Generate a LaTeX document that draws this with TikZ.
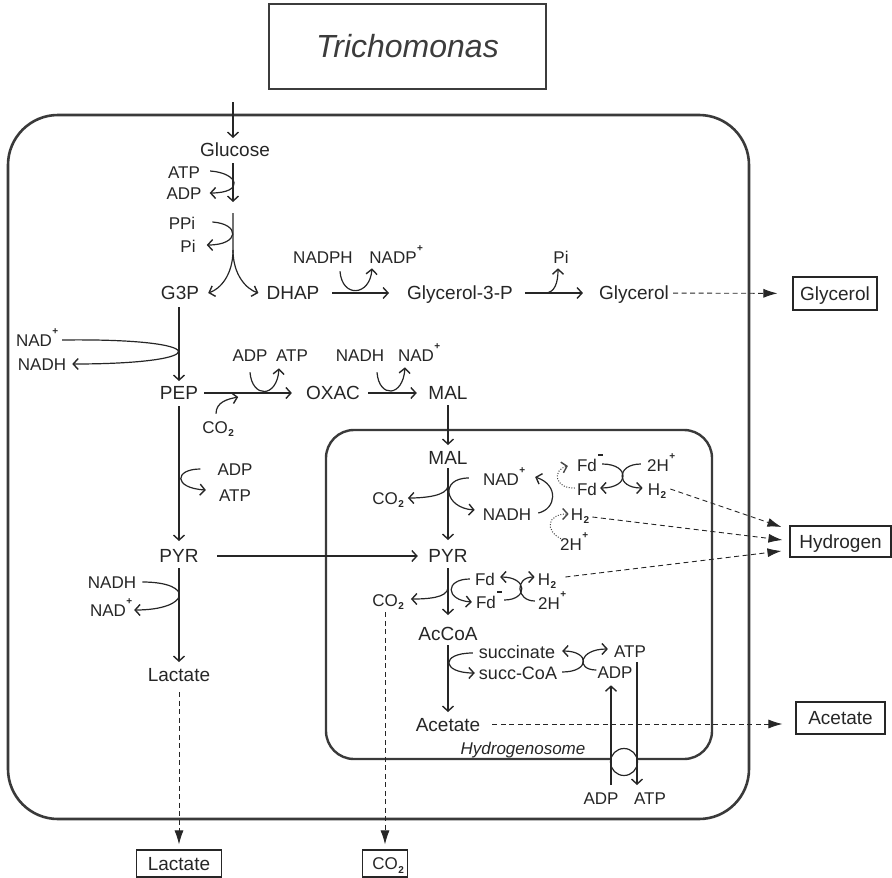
\documentclass[tikz,border=0pt]{standalone}
\usepackage{fontspec}
\setmainfont{Liberation Sans}
\usetikzlibrary{arrows.meta,calc}
\definecolor{ink}{HTML}{262626}
\definecolor{wall}{HTML}{3A3A3A}
% charge and subscript marks that do not widen the label
\newcommand\ionp{\rlap{\kern0.5pt\raisebox{11.5pt}{\fontsize{10}{10}\selectfont\bfseries +}}}
\newcommand\ionm{\rlap{\kern1.2pt\rule[15pt]{5pt}{2.2pt}}}
\newcommand\subtwo{\rlap{\kern0.6pt\raisebox{-3.5pt}{\fontsize{10}{10}\selectfont\bfseries 2}}}
\begin{document}
\begin{tikzpicture}[x=1pt,y=-1pt,
  every node/.style={text=ink},
  mlab/.style={inner sep=0pt,text height=13.6pt,text depth=0pt,font=\fontsize{19}{19}\selectfont},
  slab/.style={inner sep=0pt,text height=12.9pt,text depth=0pt,font=\fontsize{18}{18}\selectfont},
  clab/.style={inner sep=0pt,text height=12.2pt,text depth=0pt,font=\fontsize{17}{17}\selectfont},
  rxn/.style={draw=ink,line width=1.2pt,-{Straight Barb[length=5pt,width=11pt,line width=1.4pt]}},
  dotl/.style={draw=ink!85,line width=1pt,dash pattern=on 1pt off 1.6pt,-{Straight Barb[length=5pt,width=11pt,line width=1.4pt]}},
  dsh/.style={draw=ink,line width=0.9pt,dash pattern=on 5pt off 3.5pt,-{Latex[length=14pt,width=9pt]}},
  extbox/.style={draw=ink,line width=1.1pt,inner sep=0pt,text height=13.6pt,text depth=0pt,font=\fontsize{19}{19}\selectfont},
  wallline/.style={draw=wall,line width=2.6pt},
]
\useasboundingbox (0,0) rectangle (892,878);

% title
\node[draw=ink!90,line width=1.5pt,minimum width=277pt,minimum height=85pt,inner sep=0pt,
      text=ink!90,font=\fontsize{32}{32}\selectfont\itshape] (title) at (407.5,46.5) {Trichomonas};

% cell and hydrogenosome membranes
\draw[wallline,rounded corners=50pt] (8,115) rectangle (749,819);
\draw[wallline,line width=2.4pt,rounded corners=28pt] (326,430) rectangle (712,759);
\node[draw=ink,line width=1.2pt,fill=white,circle,minimum size=27pt,inner sep=0pt] (porter) at (624,762) {};
\node[clab,font=\fontsize{17}{17}\selectfont\itshape] (hydrolab) at (523,748) {Hydrogenosome};

% ---------- glycolysis ----------
\coordinate (in) at (233,102);
\node[mlab] (glc) at (235,150) {Glucose};
\draw[rxn] (in) -- ($(in |- glc.north)+(0,-5)$);

\node[clab] (atp1) at (184,172) {ATP};
\node[clab] (adp1) at (184,193) {ADP};
\coordinate (hexp) at (233,202);
\draw[rxn] ($(glc.south -| hexp)+(0,6)$) -- (hexp);
\draw[rxn] ($(atp1.east)+(10,-1)$) .. controls +(29,2) and +(35,0) .. ($(adp1.east)+(8,0)$);

\node[clab] (ppi) at (182,223) {PPi};
\node[clab] (pi1) at (188,246) {Pi};
\coordinate (fbp) at (233,213);
\coordinate (split) at (233,250);
\node[mlab] (g3p) at (180,293) {G3P};
\node[mlab] (dhap) at (293,293) {DHAP};
\draw[rxn] ($(ppi.east)+(17,-1)$) .. controls +(28,2) and +(33,0) .. ($(pi1.east)+(11,-1)$);
\draw[rxn] (fbp) -- (split) .. controls +(0,25) and +(12,-4) .. ($(g3p.east)+(9,0)$);
\draw[rxn] (split) .. controls +(0,25) and +(-12,-4) .. ($(dhap.west)+(-8,0)$);

% glycerol branch
\node[clab] (nadph) at (323,257) {NADPH};
\node[clab] (nadp) at (393,257) {NADP\ionp};
\node[mlab] (g3pl) at (460,293) {Glycerol-3-P};
\draw[rxn,shorten <=12.5pt,shorten >=18pt] (dhap) -- (g3pl);
\draw[rxn] ($(nadph.south)+(17,8)$) .. controls +(2,27) and +(-2,28) .. ($(nadp.south)+(-21,5)$);

\node[clab] (pi2) at (561,257) {Pi};
\node[mlab] (glyc) at (634,293) {Glycerol};
\draw[rxn,shorten <=12pt,shorten >=16pt] (g3pl) -- (glyc);
\draw[rxn] ($(g3pl.east)+(32,0)$) .. controls +(10,0) and +(0,14) .. ($(pi2.south)+(-3,5)$);
\node[extbox,minimum width=84pt,minimum height=33pt] (glycx) at (835,293.5) {Glycerol};
\draw[dsh,shorten <=4pt,shorten >=15pt] (glyc) -- (glycx);

% G3P to PEP
\node[clab] (nad0) at (34,340) {NAD\ionp};
\node[clab] (nadh0) at (42,364) {NADH};
\node[mlab] (pep) at (179,393) {PEP};
\draw[rxn,shorten <=7pt,shorten >=5pt] (g3p.south -| pep) -- (pep);
\draw[rxn] ($(nad0.east)+(10,0)$) .. controls +(153,-2) and +(143,0) .. ($(nadh0.east)+(6,0)$);

% PEP carboxykinase, malate dehydrogenase
\node[mlab] (oxac) at (333,393) {OXAC};
\node[mlab] (mal) at (448,393) {MAL};
\node[clab] (adp2) at (250,355) {ADP};
\node[clab] (atp2) at (292,355) {ATP};
\node[clab] (co2a) at (215,427) {CO\subtwo};
\draw[rxn,shorten <=6pt,shorten >=14pt] (pep) -- (oxac);
\draw[rxn] ($(adp2.south)+(0,11)$) .. controls +(2,26) and +(-2,30) .. ($(atp2.south)+(-13,7)$);
\draw[rxn] ($(co2a.north)+(1,-7)$) .. controls +(0,-12) and +(-10,2) .. ($(pep.east)+(40,4)$);

\node[clab] (nadh2) at (360,355) {NADH};
\node[clab] (nad2) at (416,355) {NAD\ionp};
\draw[rxn,shorten <=8pt,shorten >=11.5pt] (oxac) -- (mal);
\draw[rxn] ($(nadh2.south)+(17,11)$) .. controls +(2,26) and +(-2,30) .. ($(nad2.south)+(-11,6)$);

% PEP to PYR to lactate
\node[clab] (adp3) at (235,469) {ADP};
\node[clab] (atp3) at (235,495) {ATP};
\node[mlab] (pyr) at (179,556) {PYR};
\draw[rxn,shorten <=6pt,shorten >=8pt] (pep) -- (pyr);
\draw[rxn] ($(adp3.west)+(-17,0)$) .. controls +(-26,0) and +(-33,-2) .. ($(atp3.west)+(-13,-5)$);

\node[clab] (nadh6) at (112,582) {NADH};
\node[clab] (nad6) at (108,610) {NAD\ionp};
\node[mlab] (lac) at (179,675) {Lactate};
\draw[rxn,shorten <=5pt,shorten >=6pt] (pyr) -- (lac);
\draw[rxn] ($(nadh6.east)+(6,0)$) .. controls +(53,0) and +(56,0) .. ($(nad6.east)+(8,0)$);
\node[extbox,minimum width=85pt,minimum height=27pt] (lacx) at (179,863.5) {Lactate};
\draw[dsh,shorten <=10pt,shorten >=5pt] (lac) -- (lacx);

% ---------- hydrogenosome ----------
\node[mlab] (malin) at (448,458) {MAL};
\node[mlab] (pyrin) at (448,556) {PYR};
\draw[rxn,shorten <=5pt,shorten >=6pt] (mal) -- (malin);
\draw[rxn,shorten <=18.5pt,shorten >=10.5pt] (pyr) -- (pyrin);
\draw[rxn,shorten <=3pt,shorten >=9pt] (malin) -- (pyrin);

% malic enzyme
\node[clab] (nad5) at (501,479) {NAD\ionp};
\node[clab] (nadh5) at (507,514) {NADH};
\node[clab] (co2b) at (385,498) {CO\subtwo};
\draw[rxn] ($(nad5.west)+(-14,-1)$) .. controls +(-30,0) and +(-30,-2) .. ($(nadh5.west)+(-8,-4)$);
\draw[rxn] ($(malin.south)+(0,21)$) .. controls +(-1,10) and +(16,0) .. ($(co2b.east)+(10,0)$);
\draw[rxn] ($(nadh5.east)+(7,-1)$) .. controls +(18,-4) and +(24,8) .. ($(nad5.east)+(16,-2)$);

% ferredoxin and hydrogenase (upper)
\node[clab] (fdm1) at (587,465) {Fd\ionm};
\node[clab] (fd1) at (587,489) {Fd};
\node[clab] (h2p1) at (658,465) {2H\ionp};
\node[clab] (h2a) at (654,489) {H\subtwo};
\node[clab] (h2b) at (577,514) {H\subtwo};
\node[clab] (h2p2) at (571,544) {2H\ionp};
\draw[dotl] ($(fd1.west)+(-2,-1)$) .. controls +(-20,1) and +(-16,4) .. ($(fdm1.west)+(-9,1)$);
\draw[dotl] ($(h2p2.north west)+(1,1)$) .. controls +(-16,-8) and +(-22,0) .. ($(h2b.west)+(-2,0)$);
\draw[rxn] ($(fdm1.east)+(5,-1)$) .. controls +(28,0) and +(30,0) .. ($(fd1.east)+(3,-1)$);
\draw[rxn] ($(h2p1.west)+(-6,-1)$) .. controls +(-25,0) and +(-27,0) .. ($(h2a.west)+(-5,-1)$);

% PFOR and hydrogenase (lower)
\node[mlab] (acoa) at (448,634) {AcCoA};
\node[clab] (fd2) at (485,579) {Fd};
\node[clab] (h2c) at (544,579) {H\subtwo};
\node[clab] (fdm2) at (486,602) {Fd\ionm};
\node[clab] (h2p3) at (549,603) {2H\ionp};
\node[clab] (co2c) at (385,600) {CO\subtwo};
\draw[rxn,shorten <=5pt,shorten >=12pt] (pyrin) -- (acoa);
\draw[rxn] ($(fd2.west)+(-5,0)$) .. controls +(-25,0) and +(-27,-2) .. ($(fdm2.west)+(-4,0)$);
\draw[rxn] ($(pyrin.south)+(0,25)$) .. controls +(-1,10) and +(16,0) .. ($(co2c.east)+(13,-1)$);
\draw[rxn] ($(fdm2.east)+(8,-2)$) .. controls +(24,0) and +(28,0) .. ($(fd2.east)+(5,-2)$);
\draw[rxn] ($(h2p3.west)+(-3,-2)$) .. controls +(-19,0) and +(-20,0) .. ($(h2c.west)+(-3,-2)$);
\node[extbox,font=\fontsize{17}{17}\selectfont,text height=12.2pt,minimum width=45pt,minimum height=27pt] (co2x) at (385,863.5) {CO\subtwo};
\draw[dsh,shorten <=6pt,shorten >=5pt] (co2c) -- (co2x);

% acetate:succinate CoA transferase, succinyl-CoA synthetase
\node[slab] (succ) at (517,652) {succinate};
\node[slab] (succoa) at (518,673) {succ-CoA};
\node[clab] (atp4) at (630,651) {ATP};
\node[clab] (adp4) at (615,672) {ADP};
\node[mlab] (acet) at (448,725) {Acetate};
\draw[rxn,shorten <=4pt,shorten >=6pt] (acoa) -- (acet);
\draw[rxn] ($(succ.west)+(-6,1)$) .. controls +(-33,0) and +(-33,0) .. ($(succoa.west)+(-4,0)$);
\draw[rxn] ($(succoa.east)+(5,-1)$) .. controls +(28,0) and +(28,0) .. ($(succ.east)+(7,-1)$);
\draw[rxn] ($(adp4.west)+(-1,-2)$) .. controls +(-21,0) and +(-29,0) .. ($(atp4.west)+(-6,-2)$);

% ADP/ATP carrier
\node[clab] (adp5) at (601,798) {ADP};
\node[clab] (atp5) at (650,798) {ATP};
\coordinate (tin) at (611,785);
\coordinate (tout) at (637,785);
\draw[rxn,shorten >=7pt] (tin) -- (tin |- adp4.south);
\draw[rxn] ($(atp4.south -| tout)+(0,5)$) -- (tout);

% end products
\node[extbox,minimum width=101pt,minimum height=31pt] (hydx) at (840.5,541.5) {Hydrogen};
\node[extbox,minimum width=89pt,minimum height=32pt] (acetx) at (840.5,718) {Acetate};
\draw[dsh] ($(h2a.east)+(10,0)$) -- ($(hydx.west)+(-8,-14.5)$);
\draw[dsh] ($(h2b.east)+(9,3)$) -- ($(hydx.west)+(-7,-1.5)$);
\draw[dsh] ($(h2c.east)+(15,-2)$) -- ($(hydx.west)+(-8,9.5)$);
\draw[dsh] ($(acet.east)+(12,-1)$) -- ($(acetx.west)+(-13,6)$);
\end{tikzpicture}
\end{document}
